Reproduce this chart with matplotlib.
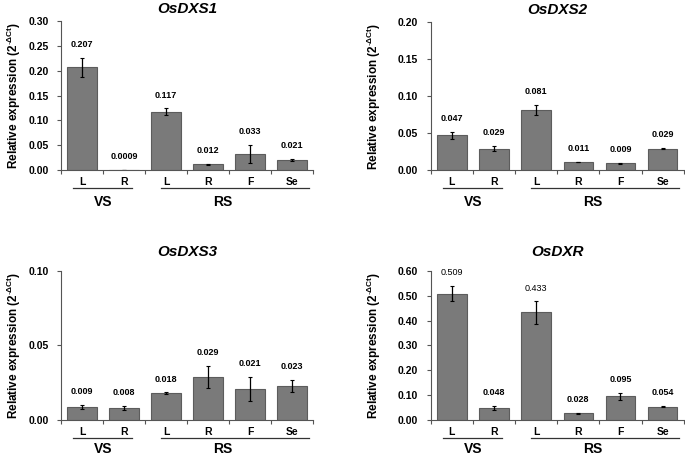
import numpy as np
import matplotlib
matplotlib.use('Agg')
import matplotlib.pyplot as plt
import matplotlib.transforms as mtransforms

plt.rcParams['font.family'] = ['Liberation Sans', 'DejaVu Sans']
plt.rcParams['mathtext.fontset'] = 'custom'
plt.rcParams['mathtext.rm'] = 'Liberation Sans'
plt.rcParams['mathtext.bf'] = 'Liberation Sans:bold'
plt.rcParams['mathtext.it'] = 'Liberation Sans:italic'

categories = ['L', 'R', 'L', 'R', 'F', 'Se']
groups = ['VS', 'RS']

genes = ['OsDXS1', 'OsDXS2', 'OsDXS3', 'OsDXR']
dxs1_vals = [0.207, 0.0009, 0.117, 0.012, 0.033, 0.021]
dxs1_err = [0.019, 0.0, 0.007, 0.001, 0.018, 0.002]
dxs1_text = ['0.207', '0.0009', '0.117', '0.012', '0.033', '0.021']
dxs2_vals = [0.047, 0.029, 0.081, 0.011, 0.009, 0.029]
dxs2_err = [0.005, 0.004, 0.007, 0.0004, 0.001, 0.0005]
dxs2_text = ['0.047', '0.029', '0.081', '0.011', '0.009', '0.029']
dxs3_vals = [0.009, 0.008, 0.018, 0.029, 0.021, 0.023]
dxs3_err = [0.0013, 0.0016, 0.0005, 0.0075, 0.008, 0.004]
dxs3_text = ['0.009', '0.008', '0.018', '0.029', '0.021', '0.023']
dxr_vals = [0.509, 0.048, 0.433, 0.028, 0.095, 0.054]
dxr_err = [0.03, 0.008, 0.045, 0.002, 0.013, 0.002]
dxr_text = ['0.509', '0.048', '0.433', '0.028', '0.095', '0.054']

yticks = {
    'OsDXS1': np.arange(0, 0.301, 0.05),
    'OsDXS2': np.arange(0, 0.201, 0.05),
    'OsDXS3': np.arange(0, 0.101, 0.05),
    'OsDXR': np.arange(0, 0.601, 0.10),
}

# gene, values, errors, labels, axes rect, ylabel x, title pad, group label y
panels = [
    ('OsDXS1', dxs1_vals, dxs1_err, dxs1_text, [0.089, 0.628, 0.368, 0.326], -0.15, 6, -0.215),
    ('OsDXS2', dxs2_vals, dxs2_err, dxs2_text, [0.629, 0.628, 0.369, 0.324], -0.19, 6, -0.215),
    ('OsDXS3', dxs3_vals, dxs3_err, dxs3_text, [0.089, 0.081, 0.368, 0.326], -0.15, 11, -0.197),
    ('OsDXR', dxr_vals, dxr_err, dxr_text, [0.629, 0.081, 0.369, 0.326], -0.19, 11, -0.197),
]

fig = plt.figure(figsize=(6.85, 4.57), dpi=100)
spine_col = '#555555'

for gene, vals, err, txt, rect, ylab_x, tpad, gy in panels:
    ax = fig.add_axes(rect)
    x = np.arange(len(categories)) + 0.5
    ax.bar(x, vals, width=0.7, color='#7a7a7a', edgecolor='#5c5c5c', linewidth=0.8)
    ax.errorbar(x, vals, yerr=err, fmt='none', ecolor='black', elinewidth=0.9,
                capsize=1.2, capthick=0.8)
    ticks = yticks[gene]
    ax.set_xlim(0, 6)
    ax.set_ylim(0, ticks[-1])
    ax.set_yticks(ticks)
    ax.set_yticklabels(['%.2f' % t for t in ticks], fontsize=7.5, fontweight='bold')
    ax.set_xticks(np.arange(0, 7))
    ax.set_xticklabels([])
    ax.set_xticks(x, minor=True)
    ax.set_xticklabels(categories, minor=True, fontsize=7.5, fontweight='bold')
    ax.tick_params(axis='x', which='major', length=3, color=spine_col, width=0.8)
    ax.tick_params(axis='x', which='minor', length=0, pad=5)
    ax.tick_params(axis='y', length=3, color=spine_col, width=0.8, pad=6)
    for s in ['top', 'right']:
        ax.spines[s].set_visible(False)
    for s in ['left', 'bottom']:
        ax.spines[s].set_color(spine_col)
        ax.spines[s].set_linewidth(0.8)

    ax.set_title(gene, fontsize=11, fontweight='bold', style='italic', pad=tpad)
    ax.set_ylabel(r'Relative expression (2$^{\mathbf{\text{-}\Delta Ct}}$)',
                  fontsize=8.5, fontweight='bold')
    ax.yaxis.set_label_coords(ylab_x, 0.5)

    for xi, v, e, t in zip(x, vals, err, txt):
        # the two tallest DXR labels are set in regular weight in the source
        w = 'normal' if (gene == 'OsDXR' and v > 0.4) else 'bold'
        ax.annotate(t, (xi, v + e), xytext=(0, 9.5), textcoords='offset points',
                    ha='center', va='center', fontsize=6.5, fontweight=w,
                    annotation_clip=False)

    trans = mtransforms.blended_transform_factory(ax.transData, ax.transAxes)
    ax.plot([0.29, 1.68], [-0.121, -0.121], color='#333333', lw=0.9,
            transform=trans, clip_on=False)
    ax.plot([2.38, 5.9], [-0.121, -0.121], color='#333333', lw=0.9,
            transform=trans, clip_on=False)
    ax.text(1.0, gy, groups[0], transform=trans, ha='center', va='center',
            fontsize=10, fontweight='bold')
    ax.text(3.85, gy, groups[1], transform=trans, ha='center', va='center',
            fontsize=10, fontweight='bold')

fig.savefig('out.png', dpi=100)
